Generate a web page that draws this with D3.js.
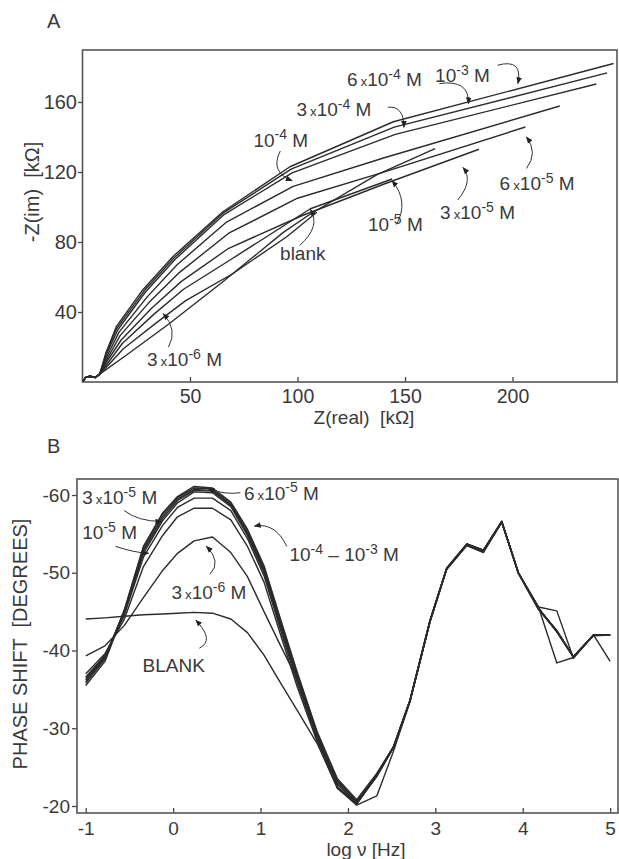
<!DOCTYPE html>
<html>
<head>
<meta charset="utf-8">
<script src="https://cdn.jsdelivr.net/npm/d3@7"></script>
<style>
  body { margin: 0; background: #fff; }
  text { font-family: "Liberation Sans", Arial, sans-serif; fill: #3a3a3a; }
</style>
</head>
<body>
<svg id="chart" width="619" height="859"></svg>
<script>
// ---- Panel A : Nyquist plots, [Z(real), -Z(im)] in kOhm
const arcStart = [[0.3, 0.5], [1.5, 2.6], [3.5, 3.3], [6, 2.6], [8, 4.5]];
const nyq_1e3  = [[11, 17], [15.7, 31.6], [28, 52.6], [42, 71.6], [65.3, 97.3], [96.5, 123], [144.6, 148.7], [247, 182]];
const nyq_6e4  = [[11, 16.5], [16, 30.8], [28.5, 51.8], [42.5, 70.8], [65.5, 96.6], [97, 121.6], [145, 145.6], [244, 176.6]];
const nyq_3e4  = [[11.2, 16], [16.5, 30], [29, 51], [43, 70], [66, 95.8], [97.5, 119.5], [145.5, 141.5], [239, 170.3]];
const nyq_1e4  = [[11.5, 15], [17, 28.5], [30, 48.5], [44, 67], [67, 91.4], [98, 111.8], [140, 128], [222, 157.7]];
const nyq_6e5  = [[11.8, 14], [17.5, 26.5], [31, 45.5], [45, 62.5], [68, 85], [100, 105], [139, 119.5], [206, 145.7]];
const nyq_3e5  = [[12, 13], [18, 24], [32, 42], [46, 57.5], [68, 76.4], [102, 95], [140, 113], [184.4, 133]];
const nyq_1e5  = [[12.5, 12], [18.5, 22], [33, 38.5], [47, 53], [69, 70], [106, 99], [144, 116]];
const nyq_3e6  = [[13, 11], [19, 19], [34, 33.5], [48, 46.5], [70, 62], [95, 83], [109, 97]];
const nyq_blank = [[20, 15], [40, 33], [65, 57], [93.4, 85.5], [106, 96], [137, 118.5], [164, 133.3]];

const zRealTicks = [50, 100, 150, 200];
const zImTicks = [40, 80, 120, 160];

// ---- Panel B : Bode phase, log nu [Hz] vs phase shift [deg]
const logNu = [-1.0, -0.78, -0.56, -0.34, -0.12, 0.05, 0.24, 0.45, 0.66, 0.85, 1.04, 1.23, 1.42, 1.65, 1.88,
               2.10, 2.33, 2.52, 2.71, 2.94, 3.13, 3.36, 3.55, 3.76, 3.95, 4.18, 4.39, 4.58, 4.81, 5.0];
const ph_1e3 = [-35.5,-38.6,-45.0,-53.3,-57.7,-59.8,-61.1,-60.9,-59.1,-55.6,-50.9,-44.0,-37.2,-29.5,-23.5,-20.8,-24.2,-27.6,-33.6,-43.9,-50.6,-53.7,-52.9,-56.6,-50.0,-45.4,-42.5,-39.2,-42.0,-42.0];
const ph_6e4 = [-35.8,-38.9,-45.2,-53.4,-57.6,-59.7,-60.9,-60.8,-59.0,-55.5,-50.7,-43.8,-37.0,-29.3,-23.3,-20.6,-24.0,-27.5,-33.5,-43.8,-50.6,-53.5,-52.6,-56.5,-50.0,-45.6,-45.1,-39.0,-42.0,-42.0];
const ph_3e4 = [-36.0,-39.0,-45.0,-53.0,-57.3,-59.5,-60.7,-60.6,-58.8,-55.2,-50.5,-43.5,-36.8,-29.2,-23.2,-20.6,-24.1,-27.5,-33.6,-43.9,-50.6,-53.6,-52.8,-56.6,-50.0,-45.5,-42.4,-39.2,-42.0,-38.6];
const ph_1e4 = [-36.2,-39.2,-45.0,-52.8,-57.0,-59.3,-60.6,-60.5,-58.7,-55.0,-50.2,-43.2,-36.5,-29.0,-23.0,-20.4,-24.0,-27.6,-33.6,-43.9,-50.6,-53.7,-52.9,-56.6,-50.0,-45.6,-38.4,-39.1,-42.0,-42.0];
const ph_6e5 = [-36.4,-39.3,-44.8,-52.5,-56.7,-59.0,-60.4,-60.3,-58.5,-54.8,-50.0,-43.0,-36.2,-28.8,-22.8,-20.4,-23.8,-27.5,-33.5,-43.8,-50.5,-53.6,-52.8,-56.6,-50.0,-45.3,-42.6,-39.2,-41.9,-42.0];
const ph_3e5 = [-36.6,-39.4,-44.5,-52.0,-56.1,-58.4,-59.6,-59.6,-58.0,-54.4,-49.6,-42.6,-35.8,-28.5,-22.5,-20.2,-23.9,-27.6,-33.6,-43.9,-50.6,-53.7,-52.9,-56.6,-50.0,-45.4,-42.5,-39.2,-42.0,-42.0];
const ph_1e5 = [-37.0,-39.6,-44.0,-50.8,-54.8,-57.2,-58.3,-58.3,-56.8,-53.4,-48.8,-42.0,-35.3,-28.2,-22.3,-20.3,-23.8,-27.5,-33.5,-43.8,-50.5,-53.6,-52.8,-56.5,-49.9,-45.3,-42.4,-39.1,-42.0,-42.0];
const ph_3e6 = [-39.3,-40.6,-43.2,-46.8,-50.3,-52.5,-54.1,-54.6,-52.6,-49.5,-45.0,-40.6,-36.3,-29.0,-22.3,-20.4,-24.0,-27.6,-33.5,-43.8,-50.5,-53.6,-52.8,-56.5,-50.0,-45.4,-42.5,-39.2,-42.0,-42.0];
const ph_blank = [-44.05,-44.2,-44.4,-44.6,-44.7,-44.8,-44.9,-44.8,-44.05,-42.3,-39.4,-35.8,-32.3,-28.0,-22.3,-20.1,-21.3,-27.0,-33.4,-43.7,-50.4,-53.5,-52.7,-56.5,-50.0,-45.4,-42.5,-39.2,-42.0,-42.0];

const logNuTicks = [-1, 0, 1, 2, 3, 4, 5];
const phaseTicks = [-60, -50, -40, -30, -20];

const svg = d3.select("#chart");
const ink = "#2b2b2b";

// arrow head
svg.append("defs").append("marker")
    .attr("id", "head")
    .attr("viewBox", "0 0 10 10")
    .attr("refX", 9).attr("refY", 5)
    .attr("markerWidth", 7).attr("markerHeight", 7)
    .attr("orient", "auto")
  .append("path")
    .attr("d", "M0,1 L10,5 L0,9 Z")
    .attr("fill", "#222");

// label with superscripts: parts = [text, kind]
function label(g, x, y, parts, size) {
    const t = g.append("text").attr("x", x).attr("y", y).style("font-size", size + "px");
    parts.forEach(p => {
        const s = t.append("tspan").text(p[0]);
        if (p[1] === "sup") {
            s.attr("dy", -0.38 * size).style("font-size", (size * 0.74) + "px");
        } else if (p[1] === "x") {
            s.style("font-size", (size * 0.7) + "px").attr("dx", 3);
        }
        if (p[2] === "down") s.attr("dy", 0.38 * size);
    });
    return t;
}
function conc(mant, exp) {
    const parts = [];
    if (mant) { parts.push([mant, ""]); parts.push(["x", "x"]); }
    parts.push(["10", ""]);
    parts.push([exp, "sup"]);
    parts.push([" M", "", "down"]);
    return parts;
}
function leader(g, p0, c, p1) {
    g.append("path")
        .attr("d", "M" + p0[0] + "," + p0[1] + " Q" + c[0] + "," + c[1] + " " + p1[0] + "," + p1[1])
        .attr("fill", "none").attr("stroke", "#333").attr("stroke-width", 1)
        .attr("marker-end", "url(#head)");
}
function styleAxis(g, size) {
    g.select(".domain").remove();
    g.selectAll("line").attr("stroke", "#444").attr("stroke-width", 1.3);
    g.selectAll("text").style("font-size", size + "px").attr("fill", "#3a3a3a").attr("font-family", null);
}

// =============== Panel A ==================
const xA = d3.scaleLinear().domain([0, 248.6]).range([82.5, 617]);
const yA = d3.scaleLinear().domain([0, 189.7]).range([382, 50]);
const gA = svg.append("g");

gA.append("g")
    .attr("transform", "translate(0,382)")
    .call(d3.axisBottom(xA).tickValues(zRealTicks).tickSize(-5).tickPadding(7).tickFormat(d => String(d)))
    .call(g => styleAxis(g, 19.5));
gA.append("g")
    .attr("transform", "translate(83,0)")
    .call(d3.axisLeft(yA).tickValues(zImTicks).tickSize(5).tickPadding(1).tickFormat(d => String(d)))
    .call(g => styleAxis(g, 20));

gA.append("rect")
    .attr("x", xA(0)).attr("y", yA(189.7))
    .attr("width", xA(248.6) - xA(0)).attr("height", yA(0) - yA(189.7))
    .attr("fill", "none").attr("stroke", "#555").attr("stroke-width", 1.6);

const lineA = d3.line().x(d => xA(d[0])).y(d => yA(d[1]));
[nyq_1e3, nyq_6e4, nyq_3e4, nyq_1e4, nyq_6e5, nyq_3e5, nyq_1e5, nyq_3e6, nyq_blank].forEach(s => {
    gA.append("path")
        .attr("d", lineA(arcStart.concat(s)))
        .attr("fill", "none").attr("stroke", ink).attr("stroke-width", 1.4)
        .attr("stroke-linejoin", "round");
});

// titles
gA.append("text").attr("x", 47).attr("y", 28).style("font-size", "20px").text("A");
gA.append("text").attr("transform", "translate(39,192) rotate(-90)")
    .attr("text-anchor", "middle").style("font-size", "20px").style("white-space", "pre")
    .text("-Z(im)  [kΩ]");
gA.append("text").attr("x", 364).attr("y", 424)
    .attr("text-anchor", "middle").style("font-size", "19px").style("white-space", "pre")
    .text("Z(real)  [kΩ]");

// annotations (positions in data units)
const P = (x, y) => [xA(x), yA(y)];
label(gA, xA(164), yA(171.5), conc("", "-3"), 19);
leader(gA, P(193, 181), P(205, 185), P(202.5, 170.5));
label(gA, xA(123), yA(169), conc("6", "-4"), 19);
leader(gA, P(166, 170.5), P(180, 173), P(179.5, 159));
label(gA, xA(99.5), yA(152), conc("3", "-4"), 19);
leader(gA, P(142, 157), P(149.5, 158), P(149.5, 145.5));
label(gA, xA(79.5), yA(134.5), conc("", "-4"), 19);
leader(gA, P(92, 132), P(87, 120), P(97.5, 115));
label(gA, xA(194), yA(109.5), conc("6", "-5"), 19);
leader(gA, P(206.5, 122), P(212, 131), P(206.5, 140));
label(gA, xA(166.3), yA(93), conc("3", "-5"), 19);
leader(gA, P(174.5, 104), P(182, 115), P(177, 122.5));
label(gA, xA(132.8), yA(86), conc("", "-5"), 19);
leader(gA, P(146, 90), P(152, 103), P(144, 115));
gA.append("text").attr("x", xA(91.9)).attr("y", yA(69.7)).style("font-size", "19px").text("blank");
leader(gA, P(101, 78), P(111, 89), P(106, 98.5));
label(gA, xA(30), yA(9), conc("3", "-6"), 19);
leader(gA, P(40, 20), P(44.5, 30), P(37.5, 39));

// =============== Panel B ==================
const xB = d3.scaleLinear().domain([-1.1, 5.09]).range([77, 618]);
const yB = d3.scaleLinear().domain([-19.1, -62.06]).range([813, 479]);
const gB = svg.append("g");

gB.append("g")
    .attr("transform", "translate(0,813)")
    .call(d3.axisBottom(xB).tickValues(logNuTicks).tickSize(-5).tickPadding(9).tickFormat(d => String(d)))
    .call(g => styleAxis(g, 19));
gB.append("g")
    .attr("transform", "translate(77,0)")
    .call(d3.axisLeft(yB).tickValues(phaseTicks).tickSize(5).tickPadding(2).tickFormat(d => String(d)))
    .call(g => styleAxis(g, 19));

gB.append("rect")
    .attr("x", xB(-1.1)).attr("y", yB(-62.06))
    .attr("width", xB(5.09) - xB(-1.1)).attr("height", yB(-19.1) - yB(-62.06))
    .attr("fill", "none").attr("stroke", "#555").attr("stroke-width", 1.6);

const lineB = d3.line().x((d, i) => xB(logNu[i])).y(d => yB(d));
[ph_blank, ph_3e6, ph_1e5, ph_3e5, ph_6e5, ph_1e4, ph_3e4, ph_6e4, ph_1e3].forEach(s => {
    gB.append("path")
        .attr("d", lineB(s))
        .attr("fill", "none").attr("stroke", ink).attr("stroke-width", 1.4)
        .attr("stroke-linejoin", "round");
});

gB.append("text").attr("x", 47).attr("y", 453).style("font-size", "20px").text("B");
gB.append("text").attr("transform", "translate(27,644) rotate(-90)")
    .attr("text-anchor", "middle").style("font-size", "20px").style("white-space", "pre")
    .text("PHASE SHIFT  [DEGREES]");
gB.append("text").attr("x", 366).attr("y", 856)
    .attr("text-anchor", "middle").style("font-size", "19px")
    .text("log ν [Hz]");

const Q = (x, y) => [xB(x), yB(y)];
label(gB, xB(-1.04), yB(-58.8), conc("3", "-5"), 19);
leader(gB, Q(-0.56, -58.0), Q(-0.4, -56.6), Q(-0.13, -56.6));
label(gB, xB(-1.04), yB(-54.3), conc("", "-5"), 19);
leader(gB, Q(-0.66, -53.4), Q(-0.45, -52.6), Q(-0.28, -52.5));
label(gB, xB(0.81), yB(-59.4), conc("6", "-5"), 19);
leader(gB, Q(0.77, -60.3), Q(0.6, -60.0), Q(0.4, -60.8));
label(gB, xB(1.33), yB(-51.5), [["10", ""], ["-4", "sup"], [" – 10", "", "down"], ["-3", "sup"], [" M", "", "down"]], 19);
leader(gB, Q(1.3, -53.4), Q(1.17, -56.5), Q(0.93, -56));
label(gB, xB(-0.02), yB(-46.6), conc("3", "-6"), 19);
leader(gB, Q(0.42, -49.8), Q(0.56, -51.4), Q(0.38, -53.4));
gB.append("text").attr("x", xB(-0.35)).attr("y", yB(-37.3)).style("font-size", "19px").text("BLANK");
leader(gB, Q(0.3, -40.3), Q(0.48, -41.3), Q(0.26, -43.9));
</script>
</body>
</html>
